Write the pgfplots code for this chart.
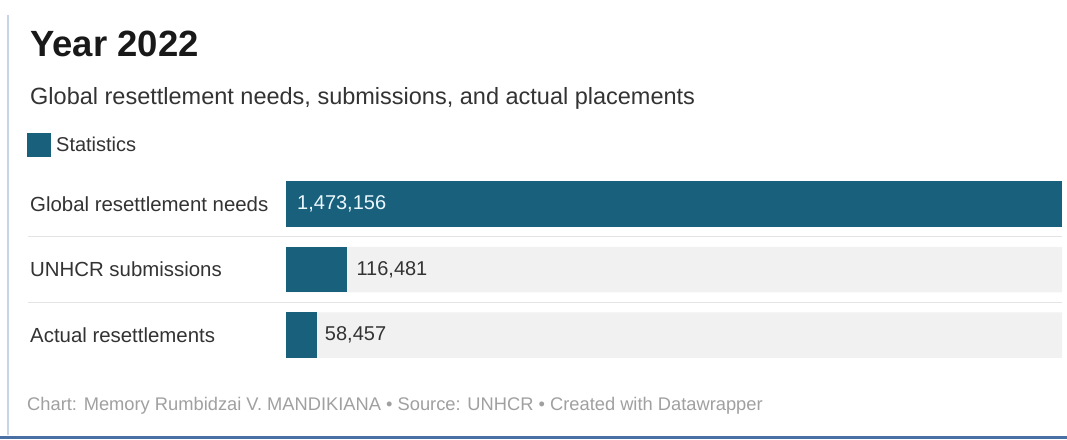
\documentclass[border=0pt]{standalone}
\usepackage{pgfplots}
\pgfplotsset{compat=1.18}
\usepackage{fontspec}
\setmainfont{Liberation Sans}
\definecolor{barcol}{RGB}{24,96,124}
\definecolor{trackcol}{RGB}{241,241,241}
\definecolor{sepcol}{RGB}{228,228,228}
\definecolor{txtcol}{RGB}{51,51,51}
\definecolor{footcol}{RGB}{160,160,160}
\definecolor{leftbord}{RGB}{200,212,232}
\definecolor{botbord}{RGB}{74,111,165}
\begin{document}
\begin{tikzpicture}
\useasboundingbox (0,0) rectangle (1067pt,439pt);
\fill[white] (0,0) rectangle (1067pt,439pt);
% frame
\draw[leftbord, line width=2pt] (8pt,4pt) -- (8pt,424pt);
\fill[botbord] (0,0) rectangle (1067pt,3pt);
% titles
\node[anchor=base west, inner sep=0pt, font=\fontsize{36.5}{40}\selectfont\bfseries, text=black!90] at (30pt,382pt) {Year 2022};
\node[anchor=base west, inner sep=0pt, font=\fontsize{23.5}{27}\selectfont, text=txtcol] at (30pt,334pt) {Global resettlement needs, submissions, and actual placements};
% separators
\draw[sepcol, line width=1pt] (28pt,202pt) -- (1062pt,202pt);
\draw[sepcol, line width=1pt] (28pt,136pt) -- (1062pt,136pt);
% footer
\node[anchor=base west, inner sep=0pt, font=\fontsize{18.3}{21}\selectfont, text=footcol] at (27pt,29pt) {Chart: Memory Rumbidzai V. MANDIKIANA \textbullet{} Source: UNHCR \textbullet{} Created with Datawrapper};
\begin{axis}[
  at={(286pt,81pt)}, anchor=south west,
  scale only axis, width=776pt, height=177pt,
  xbar, bar shift=0pt, bar width=45.5pt,
  xmin=0, xmax=1473156,
  ymin=-0.351, ymax=2.351, y dir=reverse,
  ytick={0,1,2},
  yticklabels={Global resettlement needs, UNHCR submissions, Actual resettlements},
  yticklabel style={anchor=west, inner sep=0pt, xshift=-256pt, font=\fontsize{20.4}{24}\selectfont, text=txtcol},
  xtick=\empty,
  major tick length=0pt,
  axis line style={draw=none},
  /pgf/number format/.cd, fixed, precision=0, 1000 sep={,}, assume math mode=true,
  /pgfplots/.cd,
  legend style={at={(axis description cs:-0.3338,1.2034)}, anchor=west, draw=none, fill=none, inner sep=0pt, font=\fontsize{20}{23}\selectfont, text=txtcol},
  legend image code/.code={\fill[barcol] (0pt,-12pt) rectangle (24pt,12pt); \path (27pt,0pt);},
  legend cell align=left,
]
\addplot[draw=none, fill=trackcol, forget plot] coordinates {(1473156,0) (1473156,1) (1473156,2)};
\addplot[draw=none, fill=barcol, nodes near coords, nodes near coords style={anchor=west, inner sep=0pt, xshift=-765pt, text=white!92!cyan, font=\fontsize{20}{23}\selectfont}] coordinates {(1473156,0)};
\addlegendentry{Statistics}
\addplot[draw=none, fill=barcol, forget plot, nodes near coords, nodes near coords style={anchor=west, inner sep=0pt, xshift=9pt, text=txtcol, font=\fontsize{20}{23}\selectfont}] coordinates {(116481,1)};
\addplot[draw=none, fill=barcol, forget plot, nodes near coords, nodes near coords style={anchor=west, inner sep=0pt, xshift=8pt, text=txtcol, font=\fontsize{20}{23}\selectfont}] coordinates {(58457,2)};
\end{axis}
\end{tikzpicture}
\end{document}
